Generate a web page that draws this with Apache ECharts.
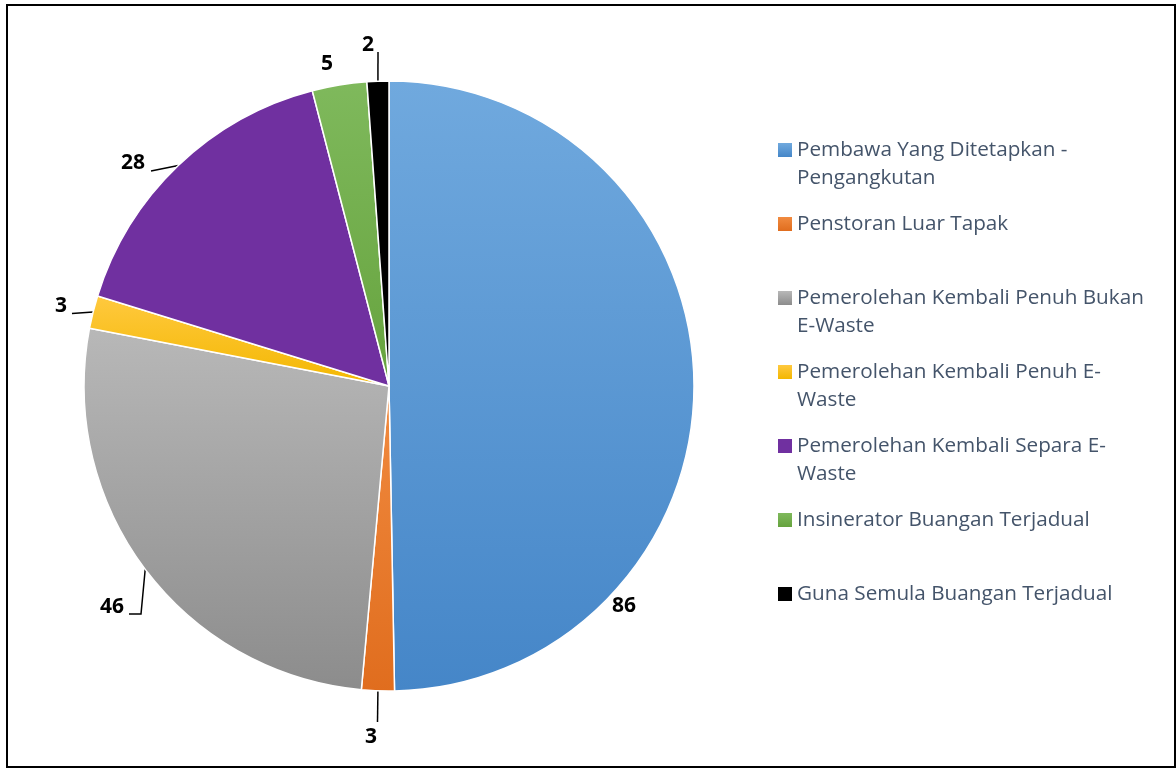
<!DOCTYPE html>
<html>
<head>
<meta charset="utf-8">
<script src="https://cdn.jsdelivr.net/npm/echarts@6/dist/echarts.min.js"></script>
<style>
  html, body { margin: 0; padding: 0; background: #fff; }
  #main { width: 1176px; height: 768px; }
</style>
</head>
<body>
<div id="main"></div>
<script>
// categories and values of the pie
var categories = [
    'Pembawa Yang Ditetapkan - Pengangkutan',
    'Penstoran Luar Tapak',
    'Pemerolehan Kembali Penuh Bukan E-Waste',
    'Pemerolehan Kembali Penuh E-Waste',
    'Pemerolehan Kembali Separa E-Waste',
    'Insinerator Buangan Terjadual',
    'Guna Semula Buangan Terjadual'
];
var values = [86, 3, 46, 3, 28, 5, 2];
// legend text as wrapped in the original
var legendLines = [
    'Pembawa Yang Ditetapkan -\nPengangkutan',
    'Penstoran Luar Tapak',
    'Pemerolehan Kembali Penuh Bukan\nE-Waste',
    'Pemerolehan Kembali Penuh E-\nWaste',
    'Pemerolehan Kembali Separa E-\nWaste',
    'Insinerator Buangan Terjadual',
    'Guna Semula Buangan Terjadual'
];

// slice colours (top / bottom of the gradient)
var topColors = ['#70a9de', '#f18b40', '#b8b8b8', '#ffc93f', '#7030a0', '#7fb95c', '#000000'];
var bottomColors = ['#4586c8', '#e06d1e', '#8c8c8c', '#f3b700', '#7030a0', '#66a33e', '#000000'];

// where the labels sit (same as the source layout)
var labelSpots = [
    { x: 624, y: 606 },
    { x: 371, y: 737, end: [377.5, 722] },
    { x: 112, y: 607, bend: [141, 614], end: [129, 614] },
    { x: 61, y: 306, end: [72, 313.5] },
    { x: 133, y: 163, end: [151, 171] },
    { x: 327, y: 64 },
    { x: 368, y: 45, end: [378, 52] }
];

function grad(i) {
    return new echarts.graphic.LinearGradient(0, 0, 0, 1, [
        { offset: 0, color: topColors[i] },
        { offset: 1, color: bottomColors[i] }
    ]);
}

var myChart = echarts.init(document.getElementById('main'));

var pieData = categories.map(function (name, i) {
    var item = {
        name: name,
        value: values[i],
        itemStyle: { color: grad(i) }
    };
    if (!labelSpots[i].end) {
        item.labelLine = { show: false };
    }
    return item;
});

var option = {
    animation: false,
    backgroundColor: '#fff',
    graphic: [{
        type: 'rect',
        shape: { x: 7, y: 5, width: 1168, height: 762 },
        style: { fill: 'none', stroke: '#000', lineWidth: 2 },
        z: 100
    }],
    legend: {
        orient: 'vertical',
        left: 778,
        top: 108,
        padding: 0,
        itemGap: -10,
        itemWidth: 14,
        itemHeight: 14,
        icon: 'rect',
        selectedMode: false,
        itemStyle: { borderWidth: 0 },
        data: categories,
        // three text rows per item so the marker sits on the first text row
        formatter: function (name) {
            var t = legendLines[categories.indexOf(name)];
            return t.indexOf('\n') >= 0 ? ' \n' + t : ' \n' + t + '\n ';
        },
        textStyle: {
            fontFamily: 'Open Sans',
            fontSize: 20.7,
            lineHeight: 28,
            color: '#44546a'
        }
    },
    series: [{
        type: 'pie',
        center: [389, 386],
        radius: 305,
        startAngle: 90,
        clockwise: true,
        avoidLabelOverlap: false,
        itemStyle: { borderColor: '#fff', borderWidth: 1.5 },
        emphasis: { disabled: true },
        label: {
            show: true,
            position: 'outside',
            formatter: '{c}',
            fontFamily: 'Open Sans',
            fontWeight: 'bold',
            fontSize: 21,
            color: '#000'
        },
        labelLine: {
            show: true,
            length: 10,
            length2: 10,
            lineStyle: { color: '#000', width: 1.5 }
        },
        labelLayout: function (p) {
            var s = labelSpots[p.dataIndex];
            var out = { x: s.x, y: s.y, align: 'center', verticalAlign: 'middle' };
            if (s.end && p.labelLinePoints) {
                var start = p.labelLinePoints[0];
                out.labelLinePoints = [start, s.bend || s.end, s.end];
            }
            return out;
        },
        data: pieData
    }]
};

myChart.setOption(option);
</script>
</body>
</html>
